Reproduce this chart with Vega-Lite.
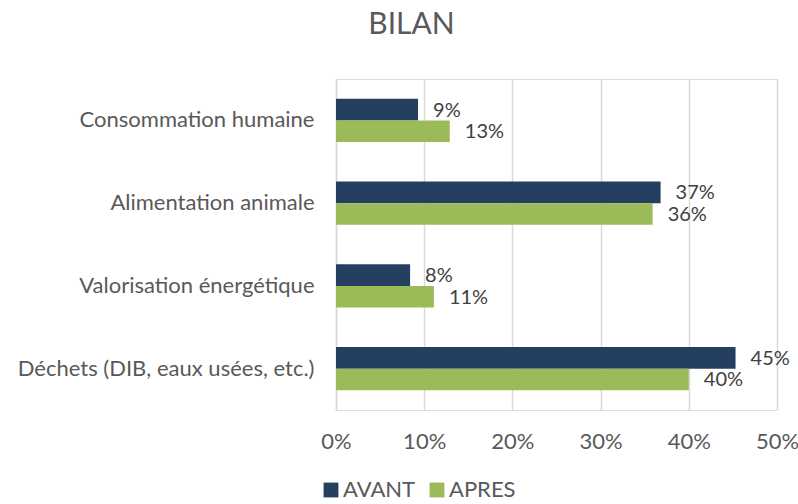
{
  "$schema": "https://vega.github.io/schema/vega-lite/v6.json",
  "autosize": {"type": "none"},
  "width": 441,
  "height": 331,
  "padding": {"left": 336, "top": 79, "right": 21, "bottom": 94},
  "background": "white",
  "title": {"text": "BILAN", "anchor": "middle", "dx": -145, "offset": 39, "fontSize": 30, "font": "Lato", "fontWeight": "normal", "color": "#595959"},
  "data": {"values": [
    {"cat": "Consommation humaine", "serie": "AVANT", "v": 0.093},
    {"cat": "Consommation humaine", "serie": "APRES", "v": 0.129},
    {"cat": "Alimentation animale", "serie": "AVANT", "v": 0.368},
    {"cat": "Alimentation animale", "serie": "APRES", "v": 0.359},
    {"cat": "Valorisation énergétique", "serie": "AVANT", "v": 0.084},
    {"cat": "Valorisation énergétique", "serie": "APRES", "v": 0.111},
    {"cat": "Déchets (DIB, eaux usées, etc.)", "serie": "AVANT", "v": 0.453},
    {"cat": "Déchets (DIB, eaux usées, etc.)", "serie": "APRES", "v": 0.40}
  ]},
  "encoding": {
    "y": {"field": "cat", "type": "nominal", "sort": null,
      "scale": {"paddingInner": 0.48, "paddingOuter": 0.24},
      "axis": {"title": null, "ticks": false, "domain": true, "domainColor": "#d9d9d9", "domainWidth": 1.5, "labelPadding": 22, "labelFontSize": 22, "labelFont": "Lato", "labelColor": "#595959", "labelLimit": 400}},
    "yOffset": {"field": "serie", "type": "nominal", "sort": ["AVANT", "APRES"]},
    "x": {"field": "v", "type": "quantitative",
      "scale": {"domain": [0, 0.5], "nice": false},
      "axis": {"title": null, "format": ".0%", "values": [0, 0.1, 0.2, 0.3, 0.4, 0.5], "labelOverlap": false, "domain": false, "ticks": false, "grid": true, "gridColor": "#d9d9d9", "gridWidth": 1.5, "labelPadding": 21, "labelFontSize": 22, "labelFont": "Lato", "labelColor": "#595959", "labelFlush": false}},
    "color": {"field": "serie", "type": "nominal", "sort": ["AVANT", "APRES"],
      "scale": {"domain": ["AVANT", "APRES"], "range": ["#243f60", "#9bbb59"]},
      "legend": {"title": null, "orient": "none", "direction": "horizontal", "legendX": -16, "legendY": 400, "symbolType": "square", "symbolSize": 220, "symbolStrokeWidth": 0, "labelFontSize": 22, "labelFont": "Lato", "labelColor": "#595959", "columnPadding": 10, "labelOffset": 1}}
  },
  "layer": [
    {"mark": {"type": "bar"}},
    {"mark": {"type": "text", "align": "left", "dx": 15, "dy": 1, "fontSize": 20, "font": "Lato"},
     "encoding": {"text": {"field": "v", "type": "quantitative", "format": ".0%"}, "color": {"value": "#404040"}}}
  ]
}
